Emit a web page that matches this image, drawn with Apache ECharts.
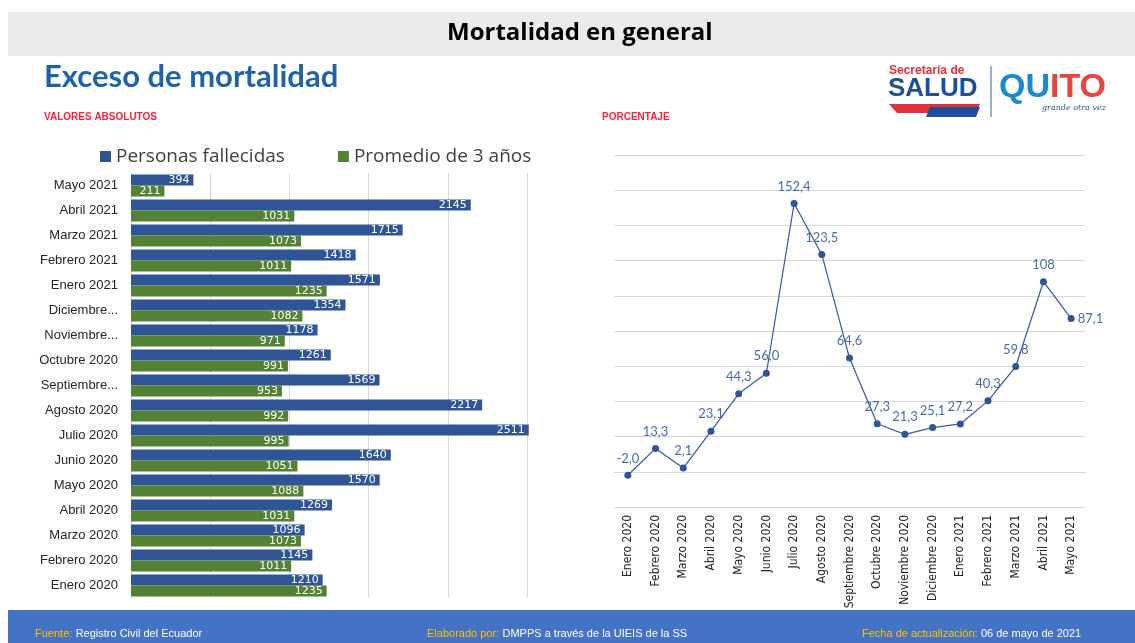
<!DOCTYPE html>
<html>
<head>
<meta charset="utf-8">
<script src="https://cdn.jsdelivr.net/npm/echarts@6/dist/echarts.min.js"></script>
<style>
  html, body { margin: 0; padding: 0; background: #fff; }
  #main { width: 1135px; height: 643px; }
</style>
</head>
<body>
<div id="main"></div>
<script>
var chartDom = document.getElementById("main");
var myChart = echarts.init(chartDom);

// meses, en orden cronológico
var months = [
  "Enero 2020", "Febrero 2020", "Marzo 2020", "Abril 2020", "Mayo 2020", "Junio 2020",
  "Julio 2020", "Agosto 2020", "Septiembre 2020", "Octubre 2020", "Noviembre 2020",
  "Diciembre 2020", "Enero 2021", "Febrero 2021", "Marzo 2021", "Abril 2021", "Mayo 2021"
];

// valores absolutos (Enero 2020 -> Mayo 2021)
var fallecidos = [1210, 1145, 1096, 1269, 1570, 1640, 2511, 2217, 1569, 1261, 1178, 1354, 1571, 1418, 1715, 2145, 394];
var promedio3 = [1235, 1011, 1073, 1031, 1088, 1051, 995, 992, 953, 991, 971, 1082, 1235, 1011, 1073, 1031, 211];

// porcentaje de exceso
var pctValues = [-2.0, 13.3, 2.1, 23.1, 44.3, 56.0, 152.4, 123.5, 64.6, 27.3, 21.3, 25.1, 27.2, 40.3, 59.8, 108, 87.1];
var pctLabels = ["-2,0", "13,3", "2,1", "23,1", "44,3", "56,0", "152,4", "123,5", "64,6", "27,3", "21,3", "25,1", "27,2", "40,3", "59,8", "108", "87,1"];

var blue = "#2F5597";
var green = "#548235";
var gridGray = "#D9D9D9";

// barras: el mes más reciente arriba
var barMonths = months.slice().reverse();
var barFallecidos = fallecidos.slice().reverse();
var barPromedio = promedio3.slice().reverse();

var barLabel = {
  show: true,
  position: "insideRight",
  distance: 4,
  color: "#fff",
  fontSize: 11,
  fontFamily: "DejaVu Sans",
};

var footFont = "11px 'Liberation Sans'";

var option = {
  animation: false,
  backgroundColor: "#fff",
  textStyle: { fontFamily: "Liberation Sans, Arial" },
  graphic: [
    // franja del título
    { type: "rect", left: 8, top: 12, shape: { width: 1127, height: 44 }, style: { fill: "#EBEBEB" } },
    {
      type: "text", left: 447, top: 21,
      style: { text: "Mortalidad en general", font: "bold 24px 'Open Sans'", fill: "#000" },
    },
    {
      type: "text", left: 44, top: 61,
      style: { text: "Exceso de mortalidad", font: "bold 31px Lato", fill: "#1F63AB" },
    },
    { type: "text", left: 44, top: 112, style: { text: "VALORES ABSOLUTOS", font: "bold 10px 'Liberation Sans Narrow', 'Liberation Sans'", fill: "#FF1F3D" } },
    { type: "text", left: 602, top: 112, style: { text: "PORCENTAJE", font: "bold 10px 'Liberation Sans Narrow', 'Liberation Sans'", fill: "#FF1F3D" } },
    // logos
    { type: "text", left: 889, top: 65, style: { text: "Secretaría de", font: "bold 12px 'Liberation Sans'", fill: "#E0303A" } },
    { type: "text", left: 888, top: 76, style: { text: "SALUD", font: "bold 26px 'Liberation Sans'", fill: "#1D4F9C" } },
    { type: "polygon", shape: { points: [[889, 104], [980, 104], [976, 113], [897, 113]] }, style: { fill: "#E0303A" } },
    { type: "polygon", shape: { points: [[930, 107], [980, 107], [976, 117], [926, 117]] }, style: { fill: "#1D4F9C" } },
    { type: "line", shape: { x1: 991, y1: 66, x2: 991, y2: 117 }, style: { stroke: "#3A5A9A", lineWidth: 1 } },
    {
      type: "text", left: 999, top: 71,
      style: {
        text: "{q|QU}{t|ITO}",
        rich: {
          q: { font: "bold 34px 'Liberation Sans'", fill: "#1C8AD0" },
          t: { font: "bold 34px 'Liberation Sans'", fill: "#E8453C" },
        },
      },
    },
    { type: "text", left: 1042, top: 104, style: { text: "grande otra vez", font: "italic 8px 'DejaVu Serif'", fill: "#1D4F9C" } },
    // pie de página
    { type: "rect", left: 8, top: 610, shape: { width: 1127, height: 33 }, style: { fill: "#4472C4" } },
    {
      type: "text", left: 35, top: 628,
      style: {
        text: "{k|Fuente:} {v|Registro Civil del Ecuador}",
        rich: { k: { fill: "#FFC000", font: footFont }, v: { fill: "#fff", font: footFont } },
      },
    },
    {
      type: "text", left: 427, top: 628,
      style: {
        text: "{k|Elaborado por:} {v|DMPPS a través de la UIEIS de la SS}",
        rich: { k: { fill: "#FFC000", font: footFont }, v: { fill: "#fff", font: footFont } },
      },
    },
    {
      type: "text", left: 862, top: 628,
      style: {
        text: "{k|Fecha de actualización:} {v|06 de mayo de 2021}",
        rich: { k: { fill: "#FFC000", font: footFont }, v: { fill: "#fff", font: footFont } },
      },
    },
  ],
  legend: {
    left: 95,
    top: 142,
    itemWidth: 11,
    itemHeight: 11,
    itemGap: 53,
    icon: "rect",
    textStyle: { fontSize: 19, color: "#404040", fontFamily: "Open Sans" },
    data: ["Personas fallecidas", "Promedio de 3 años"],
  },
  grid: [
    { left: 131, top: 173, width: 396, height: 425 },
    { left: 614, right: 50, top: 155, bottom: 136 },
  ],
  xAxis: [
    {
      gridIndex: 0,
      type: "value",
      min: 0,
      max: 2500,
      interval: 500,
      axisLabel: { show: false },
      axisLine: { show: false },
      axisTick: { show: false },
      splitLine: { lineStyle: { color: gridGray } },
    },
    {
      gridIndex: 1,
      type: "category",
      data: months,
      axisTick: { show: false },
      axisLine: { lineStyle: { color: gridGray } },
      axisLabel: { rotate: 90, interval: 0, fontSize: 12, color: "#262626", margin: 8, fontFamily: "DejaVu Sans Condensed, Liberation Sans" },
    },
  ],
  yAxis: [
    {
      gridIndex: 0,
      type: "category",
      inverse: true,
      data: barMonths,
      axisTick: { show: false },
      axisLine: { lineStyle: { color: gridGray } },
      axisLabel: {
        fontSize: 13,
        color: "#262626",
        margin: 13,
        // Excel corta los nombres largos
        formatter: function (v) {
          return v.length > 13 ? v.split(" ")[0] + "..." : v;
        },
      },
    },
    {
      gridIndex: 1,
      type: "value",
      min: -20,
      max: 180,
      interval: 20,
      axisLabel: { show: false },
      axisLine: { show: false },
      axisTick: { show: false },
      splitLine: { lineStyle: { color: gridGray } },
    },
  ],
  series: [
    {
      name: "Personas fallecidas",
      type: "bar",
      xAxisIndex: 0,
      yAxisIndex: 0,
      data: barFallecidos,
      itemStyle: { color: blue },
      barWidth: 11,
      barGap: "0%",
      clip: false,
      label: barLabel,
    },
    {
      name: "Promedio de 3 años",
      type: "bar",
      xAxisIndex: 0,
      yAxisIndex: 0,
      data: barPromedio,
      itemStyle: { color: green },
      barWidth: 11,
      barGap: "0%",
      clip: false,
      label: barLabel,
    },
    {
      name: "Porcentaje",
      type: "line",
      xAxisIndex: 1,
      yAxisIndex: 1,
      data: pctValues,
      symbol: "circle",
      symbolSize: 7,
      lineStyle: { color: "#3B5CA3", width: 1.25 },
      itemStyle: { color: "#2F5597" },
      label: {
        show: true,
        position: "top",
        distance: 7,
        color: "#4A6AAD",
        fontSize: 13,
        fontFamily: "Lato",
        formatter: function (p) {
          return pctLabels[p.dataIndex];
        },
      },
    },
  ],
};

// la última etiqueta va a la derecha del punto
option.series[2].data = pctValues.map(function (v, i) {
  return i === pctValues.length - 1 ? { value: v, label: { position: "right", distance: 3 } } : v;
});

option && myChart.setOption(option);
</script>
</body>
</html>
